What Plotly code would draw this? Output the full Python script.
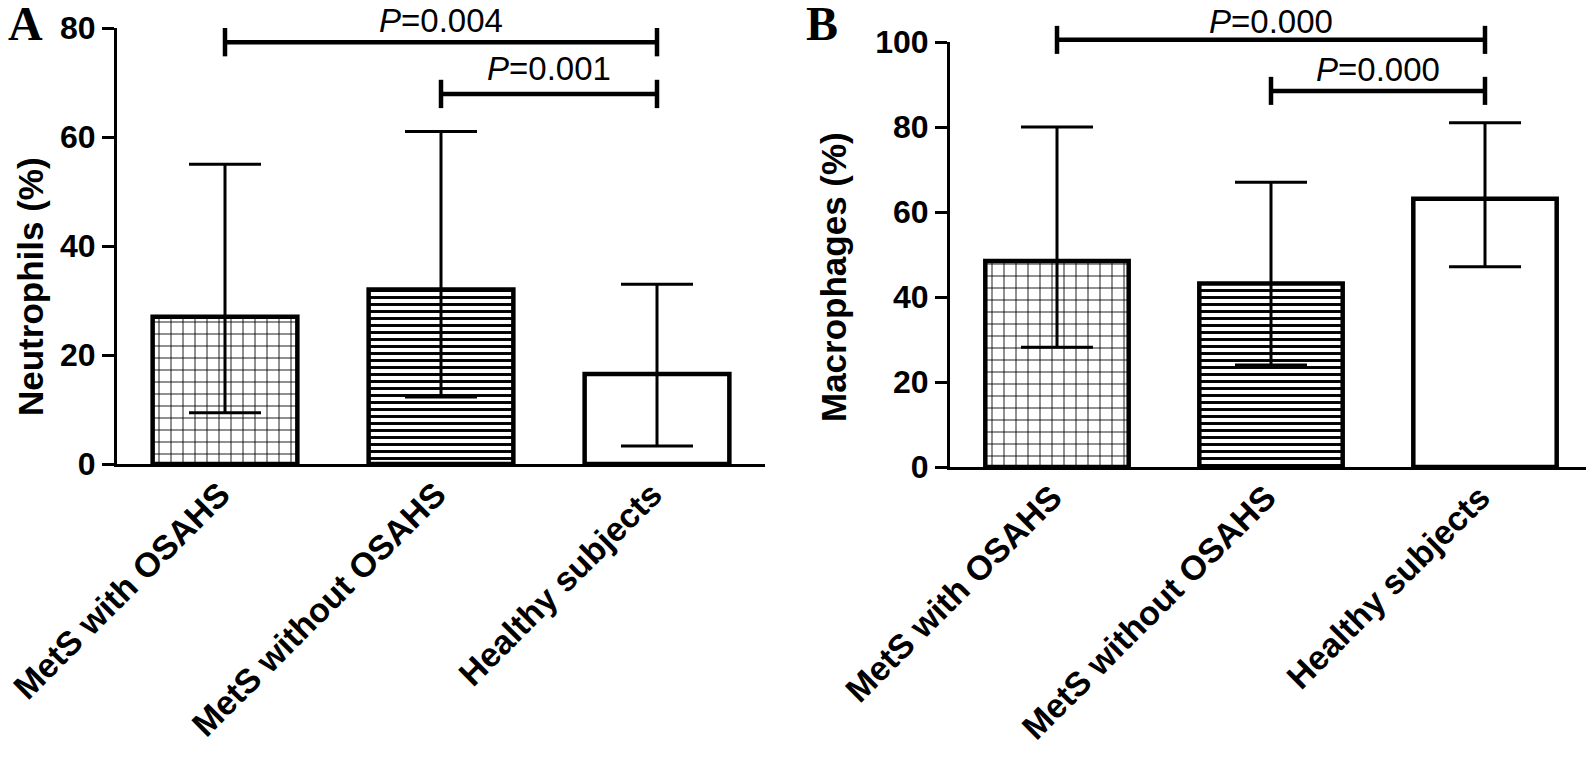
import plotly.graph_objects as go

W, H = 1594, 758
OFF = 8  # page body margin offset of the embedded figure

categories = ["MetS with OSAHS", "MetS without OSAHS", "Healthy subjects"]

# Panel A: Neutrophils (%)
neut_mean = [27, 32, 16.5]
neut_upper = [55, 61, 33]
neut_lower = [9.4, 12.3, 3.3]

# Panel B: Macrophages (%)
macro_mean = [48.5, 43.2, 63.1]
macro_upper = [80, 67, 81]
macro_lower = [28.2, 24, 47.1]

# significance comparisons: (group i, group j, label)
neut_comparisons = [(0, 2, "0.004"), (1, 2, "0.001")]
macro_comparisons = [(0, 2, "0.000"), (1, 2, "0.000")]

neut_ticks = [0, 20, 40, 60, 80]
macro_ticks = [0, 20, 40, 60, 80, 100]

# ---- layout geometry (screen pixels) ----
def pxx(a):
    return (a - OFF) / W

def pxy(b):
    return 1 - (b - OFF) / H

panels = [
    dict(mean=neut_mean, up=neut_upper, lo=neut_lower, comps=neut_comparisons,
         ticks=neut_ticks, xdom=[pxx(117), pxx(765)], ydom=[pxy(464), pxy(28)],
         title="Neutrophils (%)", title_xy=(30, 287), letter="A", letter_xy=(6, 24),
         br_heights=[77.4, 67.9], txt_heights=[81.3, 72.6], cap=2.6),
    dict(mean=macro_mean, up=macro_upper, lo=macro_lower, comps=macro_comparisons,
         ticks=macro_ticks, xdom=[pxx(950), pxx(1592)], ydom=[pxy(467), pxy(42)],
         title="Macrophages (%)", title_xy=(833, 277), letter="B", letter_xy=(804, 24),
         br_heights=[100.5, 88.5], txt_heights=[104.9, 93.6], cap=3.3),
]

patterns = [
    dict(shape="+", size=12, solidity=0.14, fgcolor="black", bgcolor="white", fillmode="replace"),
    dict(shape="-", size=7, solidity=0.42, fgcolor="black", bgcolor="white", fillmode="replace"),
    dict(shape="", fgcolor="black", bgcolor="white"),
]

fig = go.Figure()
annotations = []
layout = {}

def axname(n):
    return ("x" if n == 1 else f"x{n}"), ("y" if n == 1 else f"y{n}")

for k, p in enumerate(panels):
    n = 2 * k + 1
    xa, ya = axname(n)
    xb, yb = axname(n + 1)
    for i, c in enumerate(categories):
        fig.add_trace(go.Bar(
            x=[c], y=[p["mean"][i]], xaxis=xa, yaxis=ya, width=0.67,
            marker=dict(color="white", line=dict(color="black", width=4.5),
                        pattern=patterns[i]),
            error_y=dict(type="data", symmetric=False,
                         array=[p["up"][i] - p["mean"][i]],
                         arrayminus=[p["mean"][i] - p["lo"][i]],
                         color="black", thickness=3, width=36),
            showlegend=False, hoverinfo="skip",
        ))
    top = max(p["ticks"])
    ydom = p["ydom"]
    layout[f"xaxis{n}"] = dict(domain=p["xdom"], anchor=ya, type="category",
                               categoryorder="array", categoryarray=categories,
                               range=[-0.5, len(categories) - 0.5], automargin=False,
                               showline=True, linecolor="black", linewidth=3,
                               ticks="", tickangle=-45, ticklabelshift=-5, ticklabelstandoff=-6,
                               showgrid=False, zeroline=False,
                               tickfont=dict(family="Liberation Sans", size=34, color="black", weight="bold"))
    layout[f"yaxis{n}"] = dict(domain=ydom, anchor=xa, range=[0, top], automargin=False,
                               tickvals=p["ticks"], showline=True, linecolor="black", linewidth=3,
                               ticks="outside", ticklen=12, tickwidth=3, tickcolor="black",
                               showgrid=False, zeroline=False,
                               tickfont=dict(family="Liberation Sans", size=32, color="black", weight="bold"))
    # overlay axes for significance brackets (same scale, taller domain)
    ext_top = 1.0
    ext_range = top * (ext_top - ydom[0]) / (ydom[1] - ydom[0])
    layout[f"xaxis{n+1}"] = dict(domain=p["xdom"], anchor=yb, range=[-0.5, len(categories) - 0.5],
                                 visible=False, automargin=False)
    layout[f"yaxis{n+1}"] = dict(domain=[ydom[0], ext_top], anchor=xb, range=[0, ext_range],
                                 visible=False, automargin=False)
    for (i, j, lab), h, th in zip(p["comps"], p["br_heights"], p["txt_heights"]):
        c = p["cap"]
        fig.add_trace(go.Scatter(
            x=[i, j, None, i, i, None, j, j],
            y=[h, h, None, h - c, h + c, None, h - c, h + c],
            xaxis=xb, yaxis=yb, mode="lines", line=dict(color="black", width=4.5),
            showlegend=False, hoverinfo="skip", cliponaxis=False,
        ))
        annotations.append(dict(x=(i + j) / 2, y=th, xref=xb, yref=yb, showarrow=False,
                                text=f"<i>P</i>={lab}", xanchor="center", yanchor="middle",
                                font=dict(family="Liberation Sans", size=33, color="black")))
    tx, ty = p["title_xy"]
    annotations.append(dict(x=pxx(tx), y=pxy(ty), xref="paper", yref="paper", showarrow=False,
                            text=p["title"], textangle=-90, xanchor="center", yanchor="middle",
                            font=dict(family="Liberation Sans", size=35, color="black", weight="bold")))
    lx, ly = p["letter_xy"]
    annotations.append(dict(x=pxx(lx), y=pxy(ly), xref="paper", yref="paper", showarrow=False,
                            text=p["letter"], xanchor="left", yanchor="middle",
                            font=dict(family="Liberation Serif", size=48, color="black", weight="bold")))

fig.update_layout(
    width=W, height=H, margin=dict(l=0, r=0, t=0, b=0, autoexpand=False),
    paper_bgcolor="white", plot_bgcolor="rgba(0,0,0,0)",
    barmode="overlay", annotations=annotations, **layout,
)

fig.write_html("out.html")
